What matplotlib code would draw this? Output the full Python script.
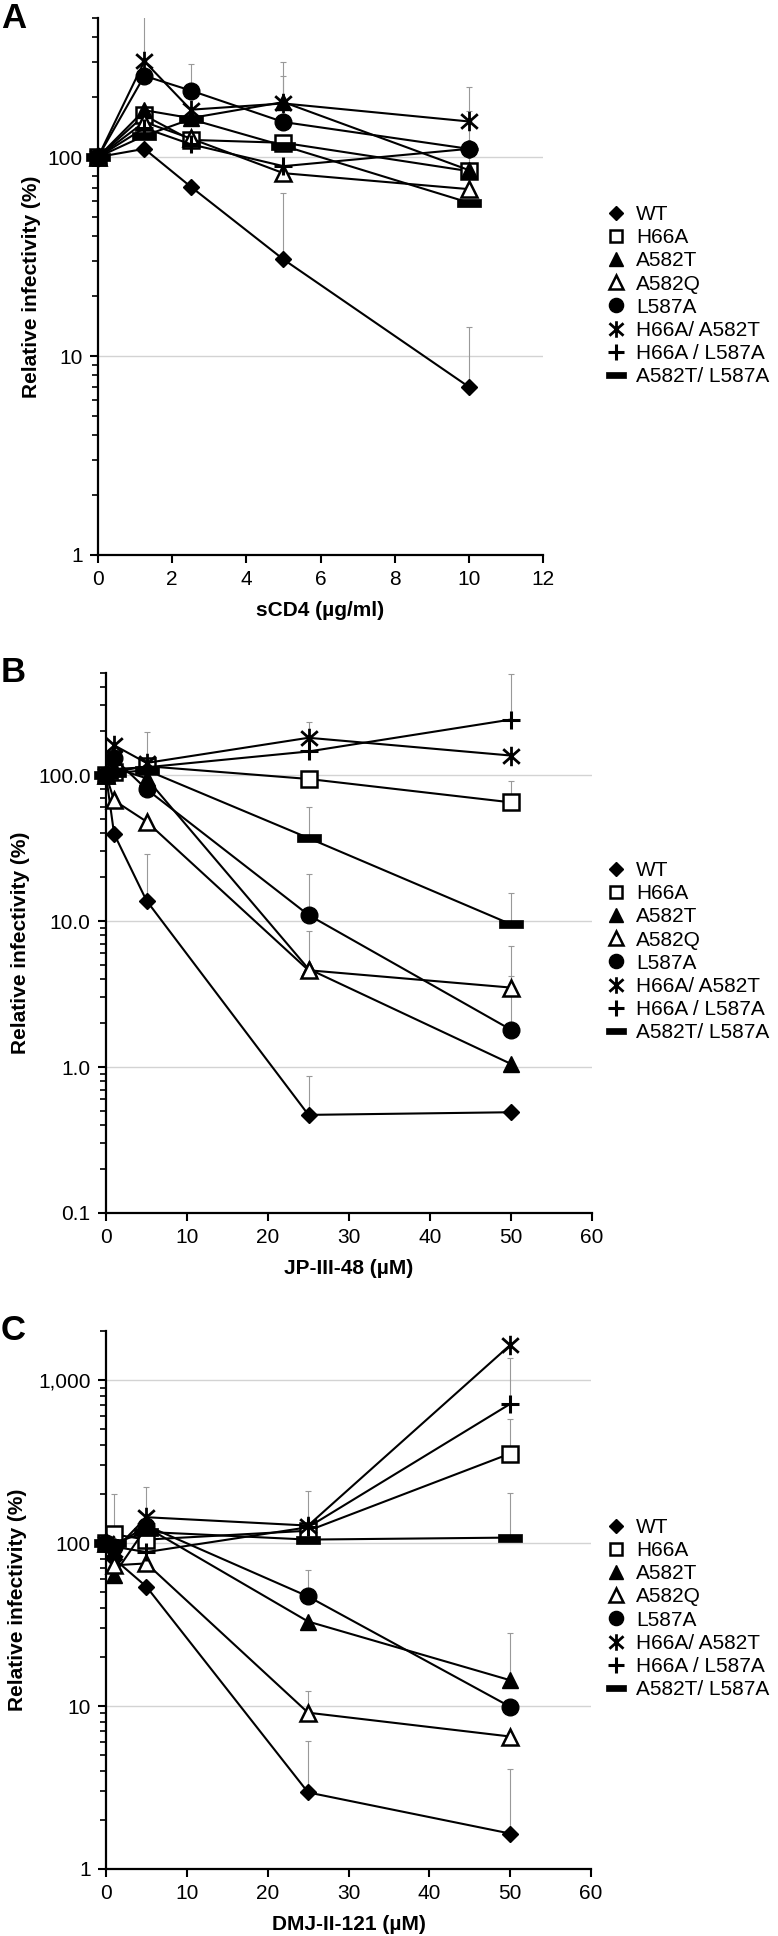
import numpy as np
import matplotlib
matplotlib.use("Agg")
import matplotlib.pyplot as plt
from matplotlib.path import Path
from matplotlib.lines import Line2D
from matplotlib.ticker import FixedLocator, FixedFormatter, LogLocator, NullFormatter

plt.rcParams['font.family'] = ['Liberation Sans', 'DejaVu Sans']

LABELS = ['WT', 'H66A', 'A582T', 'A582Q', 'L587A', 'H66A/ A582T', 'H66A / L587A', 'A582T/ L587A']

# panel A: sCD4
A_X = [0, 1.25, 2.5, 5, 10]
A_VALUES = [
    [100, 110, 71, 30.6, 7.0],     # WT
    [100, 162, 122, 118, 85],      # H66A
    [100, 172, 157, 189, 86],      # A582T
    [100, 150, 124, 83, 69],       # A582Q
    [100, 256, 216, 150, 110],     # L587A
    [100, 303, 173, 186, 151],     # H66A/A582T
    [100, 140, 116, 90, 110],      # H66A/L587A
    [100, 128, 155, 114, 59],      # A582T/L587A
]
# top of the error bar (None = no bar visible)
A_ERR_TOP = [
    [None, None, None, 66, 14],
    [None, None, None, None, None],
    [None, None, None, None, 170],
    [None, None, None, None, None],
    [None, None, 293, 256, None],
    [None, 550, None, 300, 225],
    [None, None, None, None, None],
    [None, None, None, None, None],
]

# panel B: JP-III-48
B_X = [0, 1, 5, 25, 50]
B_VALUES = [
    [100, 39.5, 13.8, 0.47, 0.49],
    [100, 105, 115, 94, 65],
    [100, 112, 95, 4.7, 1.05],
    [100, 67, 48, 4.6, 3.5],
    [100, 130, 80, 11, 1.8],
    [100, 160, 121, 180, 136],
    [100, 110, 113, 145, 240],
    [100, 103, 108, 37, 9.5],
]
B_ERR_TOP = [
    [None, None, 29, 0.87, None],
    [None, None, None, None, 91],
    [None, None, None, 8.5, None],
    [None, None, None, None, 6.7],
    [None, None, None, 21, 4.2],
    [None, None, 196, 230, None],
    [None, None, None, None, 490],
    [None, None, None, 60, 15.5],
]

# panel C: DMJ-II-121
C_X = [0, 1, 5, 25, 50]
C_VALUES = [
    [100, 80, 54, 2.95, 1.65],
    [100, 113, 105, 119, 354],
    [100, 64, 125, 33, 14.4],
    [100, 73, 75, 9.1, 6.5],
    [100, 95, 128, 47, 9.9],
    [100, 90, 144, 128, 1640],
    [100, 95, 88, 125, 714],
    [100, 100, 117, 105, 108],
]
C_ERR_TOP = [
    [None, None, None, 6.1, 4.1],
    [None, 200, None, None, 574],
    [None, None, None, None, 28],
    [None, None, None, 12.4, None],
    [None, None, None, 68, None],
    [None, None, 220, 209, None],
    [None, None, None, None, 1370],
    [None, None, None, None, 203],
]

# custom markers: asterisk and thick bar
STAR = Path([(0, -1), (0, 1), (-0.85, -0.75), (0.85, 0.75), (-0.85, 0.75), (0.85, -0.75)],
            [Path.MOVETO, Path.LINETO] * 3)
BAR = Path([(-1, -0.33), (1, -0.33), (1, 0.33), (-1, 0.33), (-1, -0.33)],
           [Path.MOVETO, Path.LINETO, Path.LINETO, Path.LINETO, Path.CLOSEPOLY])

STYLES = [
    dict(marker='D', ms=8, mfc='black', mew=1.0),
    dict(marker='s', ms=11, mfc='white', mew=1.8),
    dict(marker='^', ms=12, mfc='black', mew=1.0),
    dict(marker='^', ms=12, mfc='white', mew=1.8),
    dict(marker='o', ms=12, mfc='black', mew=1.0),
    dict(marker=STAR, ms=14, mfc='none', mew=2.0),
    dict(marker='+', ms=13, mfc='none', mew=2.2),
    dict(marker=BAR, ms=17, mfc='black', mew=0.5),
]

W, H = 778, 1936
fig = plt.figure(figsize=(W / 100, H / 100), dpi=100)


def add_axes_px(left, top, right, bottom):
    return fig.add_axes([left / W, 1 - bottom / H, (right - left) / W, (bottom - top) / H])


def draw_panel(ax, x, values, err_top, ylim, yticks, yticklabels, xmax, xstep, xlabel, ylab_x):
    for ys, tops, st in zip(values, err_top, STYLES):
        ex = [xi for xi, t in zip(x, tops) if t is not None]
        ey = [yi for yi, t in zip(ys, tops) if t is not None]
        eu = [t - yi for yi, t in zip(ys, tops) if t is not None]
        if ex:
            ax.errorbar(ex, ey, yerr=[np.zeros(len(eu)), eu], fmt='none', ecolor='#999999',
                        elinewidth=0.8, capsize=2, capthick=0.8, zorder=1)
        ax.plot(x, ys, color='black', lw=1.5, mec='black', clip_on=False, zorder=3, **st)

    ax.set_yscale('log')
    ax.set_ylim(*ylim)
    ax.set_xlim(0, xmax)
    ax.yaxis.set_major_locator(FixedLocator(yticks))
    ax.yaxis.set_major_formatter(FixedFormatter(yticklabels))
    ax.yaxis.set_minor_locator(LogLocator(base=10, subs=np.arange(2, 10)))
    ax.yaxis.set_minor_formatter(NullFormatter())
    ax.set_xticks(np.arange(0, xmax + 0.01, xstep))
    ax.yaxis.grid(True, which='major', color='#d3d3d3', lw=1.0, zorder=0)
    ax.set_axisbelow(True)

    for side in ['top', 'right']:
        ax.spines[side].set_visible(False)
    for side in ['left', 'bottom']:
        ax.spines[side].set_linewidth(1.6)
    ax.tick_params(axis='both', which='major', length=6, width=1.5, labelsize=15, pad=5)
    ax.tick_params(axis='y', which='minor', length=4, width=1.2)

    ax.set_xlabel(xlabel, fontsize=15, fontweight='bold', va='center')
    ax.xaxis.set_label_coords(0.5, -55 / 537)
    ax.set_ylabel('Relative infectivity (%)', fontsize=15, fontweight='bold', va='center')
    ax.yaxis.set_label_coords(ylab_x, 0.5)


def add_legend(ax, top_px):
    handles = []
    for st in STYLES:
        s = dict(st)
        s['ms'] = st['ms'] * 0.85
        handles.append(Line2D([], [], ls='none', color='black', mec='black', **s))
    ax.legend(handles, LABELS, loc='upper left', bbox_to_anchor=(606 / W, 1 - top_px / H),
              bbox_transform=fig.transFigure, frameon=False, fontsize=15,
              handlelength=1.0, handletextpad=0.45, labelspacing=0.2,
              borderpad=0, borderaxespad=0)


# panel A
axA = add_axes_px(98, 18, 543, 555)
draw_panel(axA, A_X, A_VALUES, A_ERR_TOP, (1, 500), [1, 10, 100], ['1', '10', '100'],
           12, 2, 'sCD4 (µg/ml)', (32 - 98) / 445)
add_legend(axA, 205)
fig.text(1 / W, 1 - 18 / H, 'A', fontsize=25, fontweight='bold', va='center', ha='left')

# panel B
axB = add_axes_px(106, 673, 592, 1213)
draw_panel(axB, B_X, B_VALUES, B_ERR_TOP, (0.1, 500), [0.1, 1, 10, 100],
           ['0.1', '1.0', '10.0', '100.0'], 60, 10, 'JP-III-48 (µM)', (21 - 106) / 486)
add_legend(axB, 861)
fig.text(1 / W, 1 - 673 / H, 'B', fontsize=25, fontweight='bold', va='center', ha='left')

# panel C
axC = add_axes_px(106, 1331, 591, 1869)
draw_panel(axC, C_X, C_VALUES, C_ERR_TOP, (1, 2000), [1, 10, 100, 1000],
           ['1', '10', '100', '1,000'], 60, 10, 'DMJ-II-121 (µM)', (18 - 106) / 485)
add_legend(axC, 1518)
fig.text(1 / W, 1 - 1331 / H, 'C', fontsize=25, fontweight='bold', va='center', ha='left')

fig.savefig('out.png', dpi=100)
